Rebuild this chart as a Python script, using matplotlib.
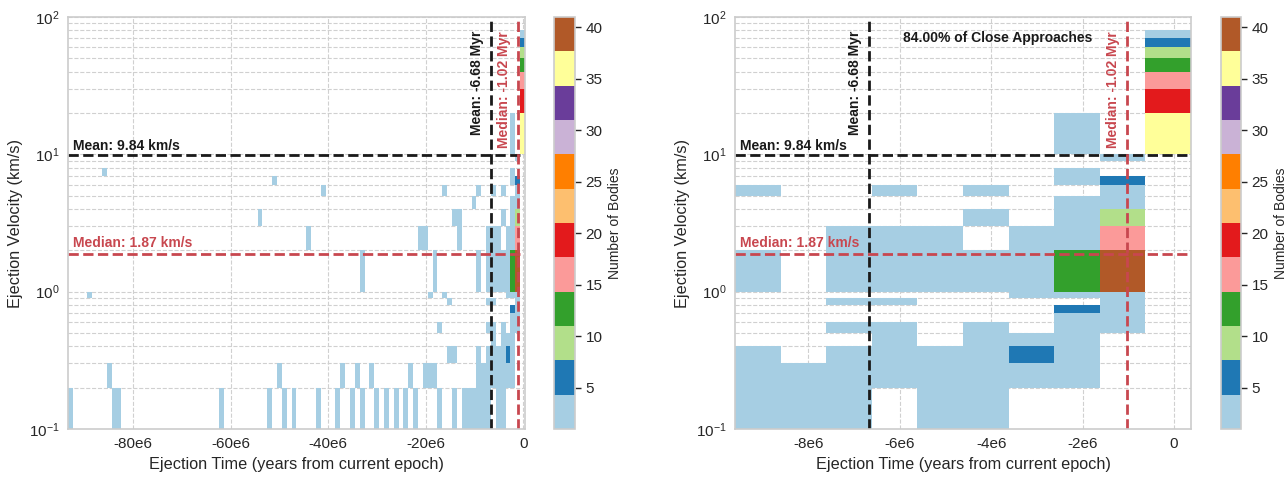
import numpy as np
import matplotlib
matplotlib.use('Agg')
import matplotlib.pyplot as plt
from matplotlib.ticker import FuncFormatter
import seaborn as sns

sns.set_style('whitegrid')
plt.rcParams['font.family'] = ['Liberation Sans', 'DejaVu Sans']

# bin edges of the 2D histogram (velocity bins follow the log decades)
vel_edges = [0.1, 0.2, 0.3, 0.4, 0.5, 0.6, 0.7, 0.8, 0.9,
             1, 2, 3, 4, 5, 6, 7, 8, 9,
             10, 20, 30, 40, 50, 60, 70, 80, 90, 100]
time_bin_width = 0.997e6
time_last_edge = 0.37e6
n_bins_all = 94
n_bins_recent = 10

# cells older than ~-9.6 Myr (bin index from the left edge, lower velocity edge, count)
old_bin = [0, 4, 7, 8, 9, 10, 31, 39, 41, 42, 43, 44, 46, 49, 51, 52, 55, 56, 58, 59,
           60, 60, 62, 63, 65, 67, 69, 70, 71, 72, 73, 73, 74, 74, 75, 75, 76, 76,
           77, 77, 78, 78, 79, 79, 79, 80, 80, 81, 82, 83, 83]
old_vel = [0.1, 0.9, 7, 0.2, 0.1, 0.1, 0.1, 3, 0.1, 6, 0.2, 0.1, 0.1, 2, 0.1, 5, 0.1, 0.2, 0.1, 0.2,
           1, 0.1, 0.2, 0.1, 0.1, 0.1, 0.1, 0.2, 0.1, 2, 2, 0.2, 0.9, 0.2, 1, 0.2, 0.5, 0.1,
           5, 0.9, 0.8, 0.3, 3, 0.3, 0.1, 3, 2, 0.1, 0.1, 4, 0.1]
old_count = [1, 1, 1, 1, 1, 1, 1, 1, 1, 1, 1, 1, 1, 1, 1, 1, 1, 1, 1, 1,
             1, 1, 1, 1, 1, 1, 1, 1, 1, 1, 1, 1, 1, 1, 1, 1, 1, 2,
             1, 1, 1, 1, 1, 1, 2, 1, 1, 2, 2, 1, 2]

# cells of the last ~10 Myr (bin index 0..9 within the recent window)
recent_bin = [0, 0, 0, 0, 0,
              1, 1,
              2, 2, 2, 2, 2, 2, 2,
              3, 3, 3, 3, 3, 3, 3, 3,
              4, 4, 4, 4, 4,
              5, 5, 5, 5, 5, 5, 5, 5,
              6, 6, 6, 6, 6, 6,
              7, 7, 7, 7, 7, 7, 7, 7, 7, 7, 7, 7, 7, 7,
              8, 8, 8, 8, 8, 8, 8, 8, 8, 8, 8, 8,
              9, 9, 9, 9, 9, 9, 9]
recent_vel = [5, 1, 0.3, 0.2, 0.1,
              0.2, 0.1,
              2, 1, 0.8, 0.5, 0.3, 0.2, 0.1,
              5, 2, 1, 0.8, 0.5, 0.4, 0.3, 0.2,
              2, 1, 0.3, 0.2, 0.1,
              5, 3, 1, 0.5, 0.4, 0.3, 0.2, 0.1,
              2, 1, 0.9, 0.4, 0.3, 0.2,
              10, 7, 6, 4, 3, 2, 1, 0.9, 0.7, 0.6, 0.5, 0.4, 0.3, 0.2,
              9, 6, 5, 4, 3, 2, 1, 0.9, 0.8, 0.7, 0.6, 0.5,
              10, 20, 30, 40, 50, 60, 70]
recent_count = [1, 2, 2, 3, 3,
                2, 2,
                2, 3, 1, 1, 2, 3, 2,
                1, 3, 4, 1, 2, 2, 3, 4,
                3, 4, 3, 4, 3,
                1, 2, 4, 2, 3, 4, 4, 2,
                3, 4, 2, 3, 6, 4,
                2, 2, 2, 3, 4, 4, 13, 3, 6, 3, 3, 4, 4, 3,
                2, 6, 4, 3, 9, 16, 41, 3, 2, 2, 2, 1,
                36, 19, 16, 13, 9, 6, 2]

mean_vel, median_vel = 9.84, 1.87
mean_time, median_time = -6.68e6, -1.02e6
close_pct = 84.00

# build count grids
n_old = n_bins_all - n_bins_recent
recent_grid = np.zeros((len(vel_edges) - 1, n_bins_recent))
for b, v, c in zip(recent_bin, recent_vel, recent_count):
    recent_grid[vel_edges.index(v), b] = c
all_grid = np.zeros((len(vel_edges) - 1, n_bins_all))
for b, v, c in zip(old_bin, old_vel, old_count):
    all_grid[vel_edges.index(v), b] = c
all_grid[:, n_old:] = recent_grid

t_edges_all = time_last_edge - time_bin_width * np.arange(n_bins_all, -1, -1)
t_edges_recent = t_edges_all[n_old:]

RED = '#c8474f'
DARK = '#1a1a1a'
W, H = 1288, 478
fig = plt.figure(figsize=(W / 100, H / 100), dpi=100)
ax_l = fig.add_axes([68 / W, 1 - 429 / H, 457 / W, 412 / H])
cax_l = fig.add_axes([554 / W, 1 - 429 / H, 21 / W, 412 / H])
ax_r = fig.add_axes([735 / W, 1 - 429 / H, 456 / W, 412 / H])
cax_r = fig.add_axes([1221 / W, 1 - 429 / H, 20 / W, 412 / H])

panels = [(ax_l, cax_l, t_edges_all, all_grid, [-80e6, -60e6, -40e6, -20e6, 0]),
          (ax_r, cax_r, t_edges_recent, recent_grid, [-8e6, -6e6, -4e6, -2e6, 0])]

for ax, cax, tx, grid, xt in panels:
    mesh = ax.pcolormesh(tx, vel_edges, np.ma.masked_equal(grid, 0),
                         cmap='Paired', vmin=1, vmax=41)
    ax.set_yscale('log')
    ax.set_ylim(0.1, 100)
    ax.set_xlim(tx[0], tx[-1])
    ax.set_xticks(xt)
    ax.xaxis.set_major_formatter(FuncFormatter(
        lambda x, p: '0' if x == 0 else f'{x / 1e6:.0f}e6'))
    ax.grid(True, which='major', linestyle='--', color='#d0d0d0', linewidth=0.8)
    ax.grid(True, which='minor', axis='y', linestyle='--', color='#d0d0d0', linewidth=0.8)
    ax.set_axisbelow(True)
    for s in ax.spines.values():
        s.set_color('#cccccc')
        s.set_linewidth(1.2)
    ax.tick_params(axis='both', which='both', length=0, labelsize=11, colors='#262626', pad=6)

    ax.axhline(mean_vel, color=DARK, ls='--', lw=2)
    ax.axhline(median_vel, color=RED, ls='--', lw=2)
    ax.axvline(mean_time, color=DARK, ls='--', lw=2)
    ax.axvline(median_time, color=RED, ls='--', lw=2)

    x0 = tx[0]
    ax.annotate(f'Mean: {mean_vel:.2f} km/s', xy=(x0, mean_vel), xytext=(3.5, 4),
                textcoords='offset points', fontsize=10, fontweight='bold', color=DARK)
    ax.annotate(f'Median: {median_vel:.2f} km/s', xy=(x0, median_vel), xytext=(3.5, 5),
                textcoords='offset points', fontsize=10, fontweight='bold', color=RED)
    ax.annotate(f'Mean: {mean_time / 1e6:.2f} Myr', xy=(mean_time, 79), xytext=(-5, 0),
                textcoords='offset points', rotation=90, ha='right', va='top',
                fontsize=10, fontweight='bold', color=DARK)
    ax.annotate(f'Median: {median_time / 1e6:.2f} Myr', xy=(median_time, 79), xytext=(-5, 0),
                textcoords='offset points', rotation=90, ha='right', va='top',
                fontsize=10, fontweight='bold', color=RED)

    ax.set_xlabel('Ejection Time (years from current epoch)', fontsize=11.7, color='#262626')
    ax.set_ylabel('Ejection Velocity (km/s)', fontsize=11.7, color='#262626')

    cb = fig.colorbar(mesh, cax=cax)
    cb.set_ticks([5, 10, 15, 20, 25, 30, 35, 40])
    cb.outline.set_edgecolor('#cccccc')
    cb.outline.set_linewidth(1.2)
    cax.tick_params(length=4, width=1, color='#262626', labelsize=11, labelcolor='#262626')
    cb.set_label('Number of Bodies', fontsize=10, color='#262626')

ax_r.text(0.575, 0.95, f'{close_pct:.2f}% of Close Approaches', transform=ax_r.transAxes,
          ha='center', va='center', fontsize=10, fontweight='bold', color=DARK)

fig.savefig('out.png', dpi=100)
